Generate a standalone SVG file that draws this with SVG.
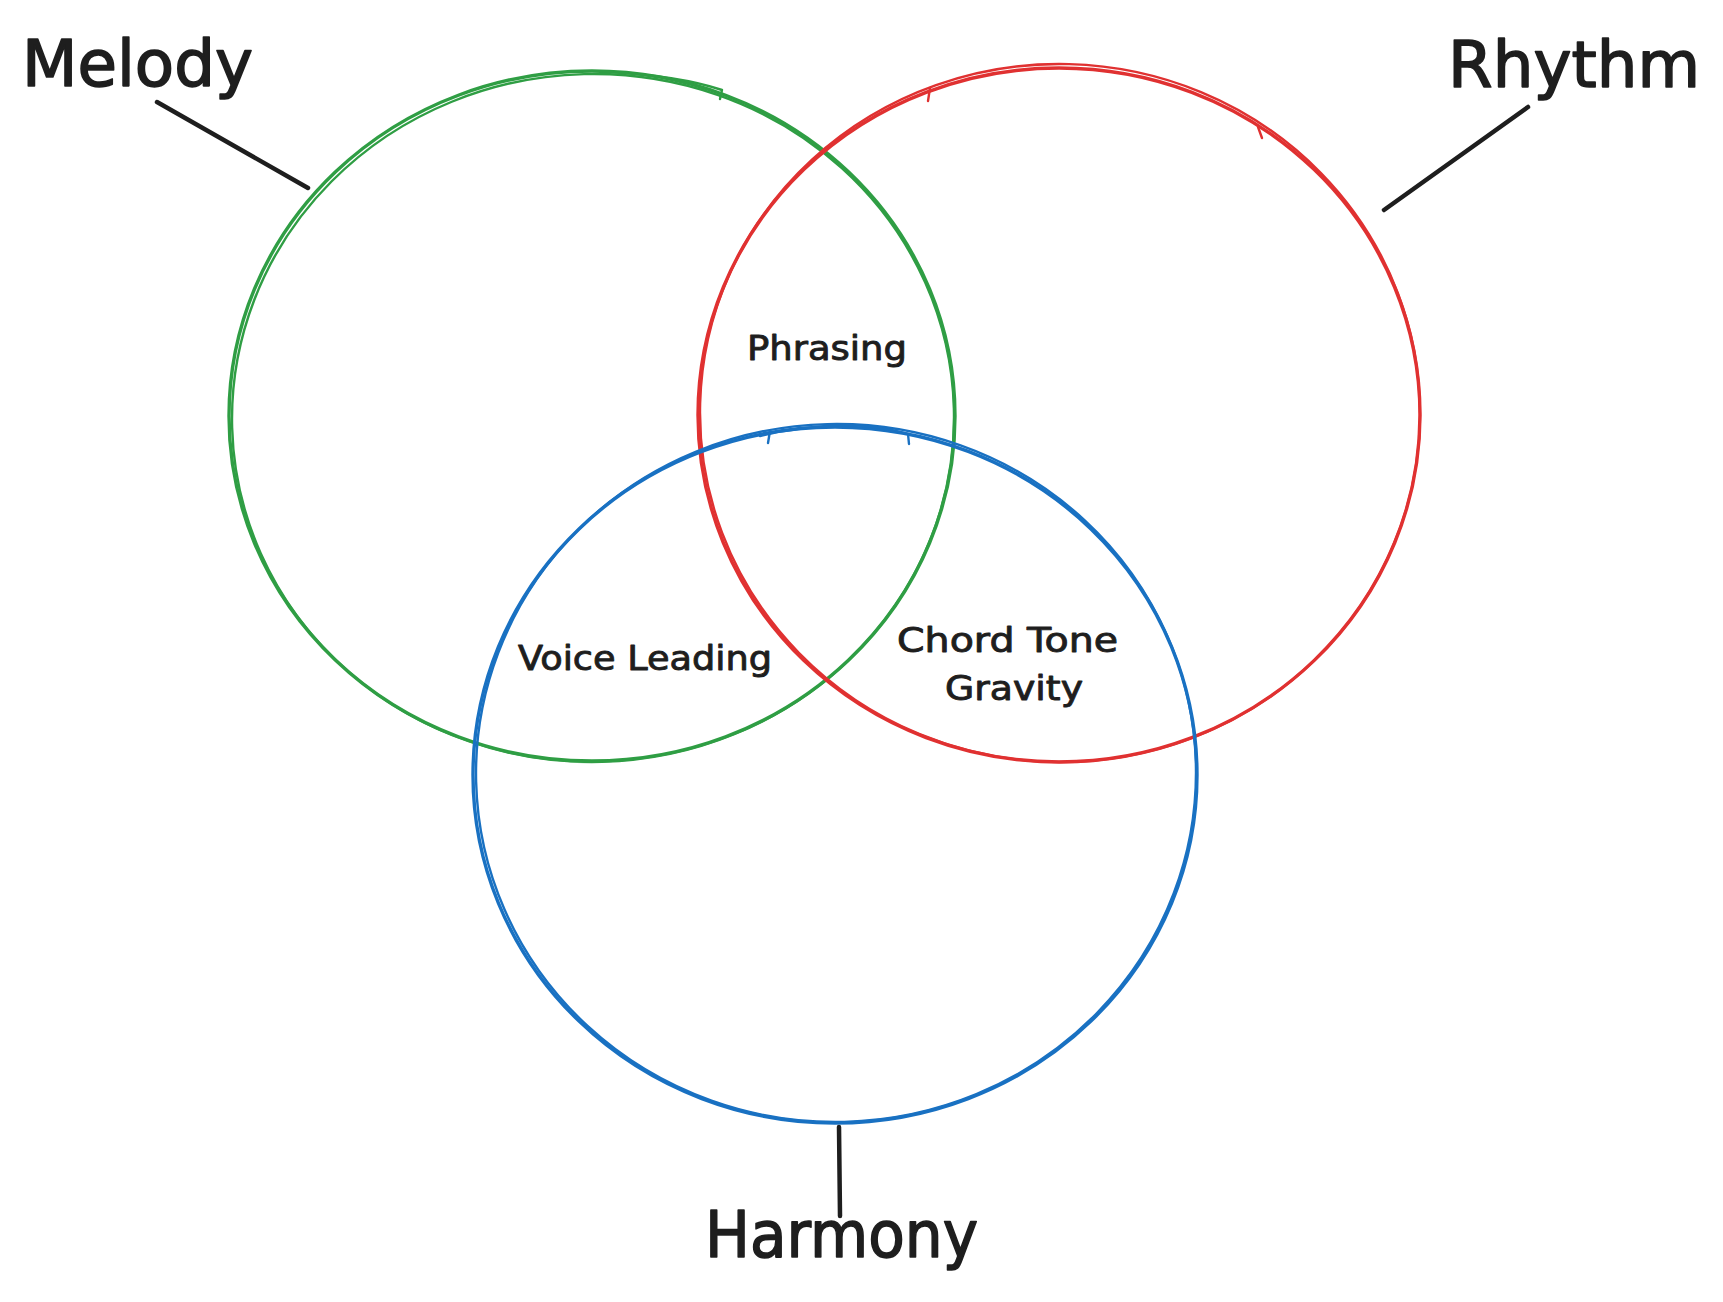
<svg xmlns="http://www.w3.org/2000/svg" width="1723" height="1302" viewBox="0 0 1723 1302">
<style>
.ring{fill:none;stroke-linecap:round;stroke-linejoin:round}
.g{stroke:#2f9e44}.r{stroke:#e03131}.b{stroke:#1971c2}
.a{stroke-width:3.4}.s{stroke-width:2.4}
.big{font-family:"DejaVu Sans","Liberation Sans",sans-serif;font-size:64px;fill:#1e1e1e;stroke:#1e1e1e;stroke-width:1.6;stroke-linejoin:round}
.lbl{font-family:"DejaVu Sans","Liberation Sans",sans-serif;font-size:33px;fill:#1e1e1e;stroke:#1e1e1e;stroke-width:0.9;stroke-linejoin:round}
.con{stroke:#1e1e1e;stroke-width:4.5;stroke-linecap:round;fill:none}
</style>
<rect width="1723" height="1302" fill="#ffffff"/>
<g id="melody">
<ellipse class="ring g a" cx="592" cy="416" rx="363" ry="345"/>
<ellipse class="ring g s" cx="593" cy="418" rx="361" ry="344" transform="rotate(-1.5 593 418)"/>
<path class="ring g s" d="M610 72 Q680 76 722 90 L720 99"/>
<text class="big" x="22" y="86" textLength="231" lengthAdjust="spacingAndGlyphs">Melody</text>
</g>
<g id="rhythm">
<ellipse class="ring r a" cx="1059" cy="415" rx="361" ry="347"/>
<ellipse class="ring r s" cx="1060" cy="413" rx="360" ry="349" transform="rotate(1.5 1060 413)"/>
<path class="ring r s" d="M930 88 L928 101"/>
<path class="ring r s" d="M1258 127 L1262 138"/>
<text class="big" x="1448" y="87" textLength="252" lengthAdjust="spacingAndGlyphs">Rhythm</text>
</g>
<g id="harmony">
<ellipse class="ring b a" cx="835" cy="775" rx="362" ry="348"/>
<ellipse class="ring b s" cx="836" cy="773" rx="360" ry="349" transform="rotate(-1.4 836 773)"/>
<path class="ring b s" d="M760 436 Q800 426 850 425 Q880 426 908 434 L909 444"/>
<path class="ring b s" d="M770 431 L768 443"/>
<text class="big" x="705" y="1257" textLength="273" lengthAdjust="spacingAndGlyphs">Harmony</text>
</g>
<g id="phrasing">
<text class="lbl" x="747" y="360" textLength="160" lengthAdjust="spacingAndGlyphs">Phrasing</text>
</g>
<g id="voice-leading">
<text class="lbl" x="518" y="670" textLength="254" lengthAdjust="spacingAndGlyphs">Voice Leading</text>
</g>
<g id="chord-tone-gravity">
<text class="lbl" x="897" y="652" textLength="221" lengthAdjust="spacingAndGlyphs">Chord Tone</text>
<text class="lbl" x="945" y="700" textLength="138" lengthAdjust="spacingAndGlyphs">Gravity</text>
</g>
<g id="connectors">
<path class="con" d="M157 102 L308 188"/>
<path class="con" d="M1528 107 L1384 210"/>
<path class="con" d="M839 1127 L840 1216"/>
</g>
</svg>
